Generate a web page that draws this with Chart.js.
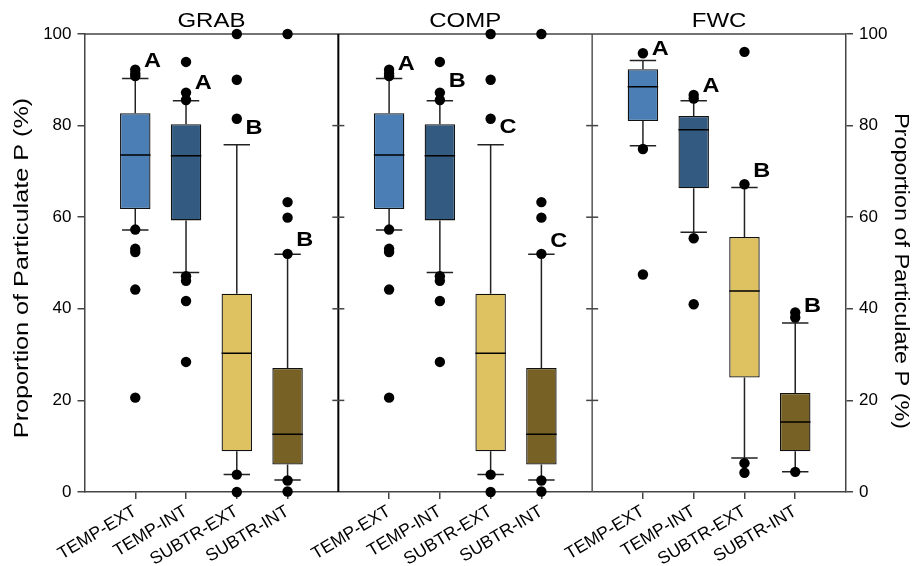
<!DOCTYPE html>
<html>
<head>
    <title>Proportion of Particulate P</title>
    <script src="https://cdn.jsdelivr.net/npm/chart.js"></script>
    <style>
        html, body { margin: 0; padding: 0; background: #fff; }
        #wrap { width: 912px; height: 566px; }
    </style>
</head>
<body>
    <div id="wrap"><canvas id="boxChart"></canvas></div>

    <script>
        // groups and panels
        const groups = ['TEMP-EXT', 'TEMP-INT', 'SUBTR-EXT', 'SUBTR-INT'];
        const panels = ['GRAB', 'COMP', 'FWC'];
        const boxColors = ['#4a7eb4', '#335b82', '#dec160', '#776124'];
        const yTicks = [0, 20, 40, 60, 80, 100];
        const yTitle = 'Proportion of Particulate P (%)';

        // GRAB
        const grabQ1 = [61.8, 59.3, 8.9, 6.0];
        const grabMed = [73.6, 73.4, 30.3, 12.6];
        const grabQ3 = [82.7, 80.3, 43.3, 27.1];
        const grabLo = [57.2, 47.9, 3.8, 2.6];
        const grabHi = [90.3, 85.4, 75.8, 51.9];
        const grabOut = [
            [92.2, 91.4, 90.8, 57.3, 53.1, 52.4, 44.2, 20.6],
            [93.9, 87.2, 85.6, 47.1, 46.1, 41.7, 28.4],
            [100, 90.0, 81.5, 3.8, 0],
            [100, 63.3, 59.9, 52.0, 2.5, 0.1]
        ];
        const grabLetters = ['A', 'A', 'B', 'B'];
        const grabLetterY = [94.0, 89.3, 79.4, 55.0];

        // COMP
        const compQ1 = [61.8, 59.3, 8.9, 6.0];
        const compMed = [73.6, 73.4, 30.3, 12.6];
        const compQ3 = [82.7, 80.3, 43.3, 27.1];
        const compLo = [57.2, 47.9, 3.8, 2.6];
        const compHi = [90.3, 85.4, 75.8, 51.9];
        const compOut = [
            [92.2, 91.4, 90.8, 57.3, 53.1, 52.4, 44.2, 20.6],
            [93.9, 87.2, 85.6, 47.1, 46.1, 41.7, 28.4],
            [100, 90.0, 81.5, 3.8, 0],
            [100, 63.3, 59.9, 52.0, 2.5, 0.1]
        ];
        const compLetters = ['A', 'B', 'C', 'C'];
        const compLetterY = [93.3, 89.8, 79.6, 54.8];

        // FWC
        const fwcQ1 = [81.0, 66.3, 25.0, 8.9];
        const fwcMed = [88.5, 79.1, 43.9, 15.3];
        const fwcQ3 = [92.3, 82.1, 55.7, 21.6];
        const fwcLo = [75.6, 56.7, 7.4, 4.4];
        const fwcHi = [94.2, 85.4, 66.5, 36.9];
        const fwcOut = [
            [95.8, 74.9, 47.5],
            [86.7, 85.9, 55.4, 41.0],
            [96.1, 67.2, 6.3, 4.2],
            [39.2, 38.1, 4.4]
        ];
        const fwcLetters = ['A', 'A', 'B', 'B'];
        const fwcLetterY = [96.6, 88.5, 70.0, 40.6];

        const stats = [
            { q1: grabQ1, med: grabMed, q3: grabQ3, lo: grabLo, hi: grabHi, out: grabOut, let: grabLetters, letY: grabLetterY },
            { q1: compQ1, med: compMed, q3: compQ3, lo: compLo, hi: compHi, out: compOut, let: compLetters, letY: compLetterY },
            { q1: fwcQ1, med: fwcMed, q3: fwcQ3, lo: fwcLo, hi: fwcHi, out: fwcOut, let: fwcLetters, letY: fwcLetterY }
        ];

        // each panel spans 5 units on x, boxes at 1..4 inside it
        const PANEL_W = 5;
        const BOX_HALF = 0.3;
        const CAP_HALF = 0.26;
        const xPos = (p, g) => p * PANEL_W + g + 1;

        const tickPos = [];
        const tickLabel = {};
        const boxData = [], boxBg = [], whiskerData = [], medianData = [], outData = [], letterData = [];
        stats.forEach((s, p) => {
            groups.forEach((name, g) => {
                const x = xPos(p, g);
                tickPos.push(x);
                tickLabel[x] = name;
                boxData.push({ x: x, y: [s.q1[g], s.q3[g]] });
                boxBg.push(boxColors[g]);
                // whiskers + caps
                whiskerData.push({ x: x, y: s.q3[g] }, { x: x, y: s.hi[g] }, { x: x, y: null });
                whiskerData.push({ x: x, y: s.q1[g] }, { x: x, y: s.lo[g] }, { x: x, y: null });
                whiskerData.push({ x: x - CAP_HALF, y: s.hi[g] }, { x: x + CAP_HALF, y: s.hi[g] }, { x: x, y: null });
                whiskerData.push({ x: x - CAP_HALF, y: s.lo[g] }, { x: x + CAP_HALF, y: s.lo[g] }, { x: x, y: null });
                medianData.push({ x: x - BOX_HALF, y: s.med[g] }, { x: x + BOX_HALF, y: s.med[g] }, { x: x, y: null });
                s.out[g].forEach(v => outData.push({ x: x, y: v }));
                letterData.push({ x: x + 0.34, y: s.letY[g], t: s.let[g] });
            });
        });

        const FONT = '"Liberation Sans", Arial, sans-serif';

        // the original figure's lettering runs a bit wide, so stretch along the baseline
        function wideText(ctx, text, x, y, font, angle, stretch) {
            ctx.save();
            ctx.translate(x, y);
            ctx.rotate(angle);
            ctx.scale(stretch, 1);
            ctx.font = font;
            ctx.fillText(text, 0, 0);
            ctx.restore();
        }

        const extras = {
            id: 'extras',
            beforeDatasetsDraw(chart) {
                const { ctx, chartArea: a, scales: { x, y } } = chart;
                ctx.save();
                // top border
                ctx.strokeStyle = '#444';
                ctx.lineWidth = 1.5;
                ctx.beginPath();
                ctx.moveTo(a.left, a.top);
                ctx.lineTo(a.right, a.top);
                ctx.stroke();
                // panel dividers with crossing ticks
                [{ v: 5, c: '#000', w: 2 }, { v: 10, c: '#555', w: 1.5 }].forEach(d => {
                    const px = x.getPixelForValue(d.v);
                    ctx.strokeStyle = d.c;
                    ctx.lineWidth = d.w;
                    ctx.beginPath();
                    ctx.moveTo(px, a.top);
                    ctx.lineTo(px, a.bottom);
                    ctx.stroke();
                    ctx.strokeStyle = '#444';
                    ctx.lineWidth = 1.5;
                    yTicks.slice(1, -1).forEach(t => {
                        const py = y.getPixelForValue(t);
                        ctx.beginPath();
                        ctx.moveTo(px - 6, py);
                        ctx.lineTo(px + 6, py);
                        ctx.stroke();
                    });
                });
                ctx.restore();
            },
            afterDatasetsDraw(chart) {
                const { ctx, chartArea: a, scales: { x, y } } = chart;
                ctx.save();
                ctx.fillStyle = '#000';
                ctx.textAlign = 'center';
                ctx.textBaseline = 'middle';
                panels.forEach((name, p) => {
                    wideText(ctx, name, x.getPixelForValue(p * PANEL_W + PANEL_W / 2), a.top - 13,
                        '20px ' + FONT, 0, 1.2);
                });
                letterData.forEach(l => {
                    wideText(ctx, l.t, x.getPixelForValue(l.x), y.getPixelForValue(l.y),
                        'bold 21px ' + FONT, 0, 1.12);
                });
                // axis titles, left reads upward, right reads downward
                wideText(ctx, yTitle, 22, 268, '21px ' + FONT, -Math.PI / 2, 1.2);
                wideText(ctx, yTitle, 900, 271, '19.5px ' + FONT, Math.PI / 2, 1.2);
                ctx.restore();
            }
        };

        const axisFont = { family: FONT, size: 17 };

        new Chart(document.getElementById('boxChart'), {
            type: 'bar',
            data: {
                datasets: [
                    {
                        type: 'scatter',
                        data: outData,
                        pointRadius: 5.2,
                        pointBackgroundColor: '#000',
                        pointBorderWidth: 0,
                        clip: false,
                        order: 1
                    },
                    {
                        type: 'line',
                        data: medianData,
                        borderColor: '#000',
                        borderWidth: 1.5,
                        pointRadius: 0,
                        spanGaps: false,
                        order: 2
                    },
                    {
                        type: 'bar',
                        data: boxData,
                        backgroundColor: boxBg,
                        borderColor: '#111',
                        borderWidth: 1.3,
                        borderSkipped: false,
                        barPercentage: 0.6,
                        categoryPercentage: 1,
                        order: 3
                    },
                    {
                        type: 'line',
                        data: whiskerData,
                        borderColor: '#222',
                        borderWidth: 1.5,
                        pointRadius: 0,
                        spanGaps: false,
                        order: 4
                    }
                ]
            },
            options: {
                responsive: true,
                maintainAspectRatio: false,
                animation: false,
                layout: { padding: { top: 34, left: 0, right: 0, bottom: 0 } },
                plugins: { legend: { display: false }, tooltip: { enabled: false } },
                scales: {
                    x: {
                        type: 'linear',
                        min: 0,
                        max: panels.length * PANEL_W,
                        offset: false,
                        afterBuildTicks: s => { s.ticks = tickPos.map(v => ({ value: v })); },
                        afterFit: s => { s.height = 74; },
                        ticks: {
                            autoSkip: false,
                            minRotation: 31,
                            maxRotation: 31,
                            padding: 2,
                            color: '#000',
                            font: { family: FONT, size: 17.5 },
                            callback: v => tickLabel[v] || ''
                        },
                        grid: { offset: false, drawOnChartArea: false, tickLength: 7, color: '#444', lineWidth: 1.5 },
                        border: { color: '#444', width: 1.5 }
                    },
                    y: {
                        min: 0,
                        max: 100,
                        afterFit: s => { s.width = 84.5; },
                        afterBuildTicks: s => { s.ticks = yTicks.map(v => ({ value: v })); },
                        ticks: { color: '#000', font: axisFont, padding: 6 },
                        grid: { drawOnChartArea: false, tickLength: 7, color: '#444', lineWidth: 1.5 },
                        border: { color: '#444', width: 1.5 }
                    },
                    y2: {
                        position: 'right',
                        min: 0,
                        max: 100,
                        afterFit: s => { s.width = 66; },
                        afterBuildTicks: s => { s.ticks = yTicks.map(v => ({ value: v })); },
                        ticks: { color: '#000', font: axisFont, padding: 6 },
                        grid: { drawOnChartArea: false, tickLength: 7, color: '#444', lineWidth: 1.5 },
                        border: { color: '#444', width: 1.5 }
                    }
                }
            },
            plugins: [extras]
        });
    </script>
</body>
</html>
